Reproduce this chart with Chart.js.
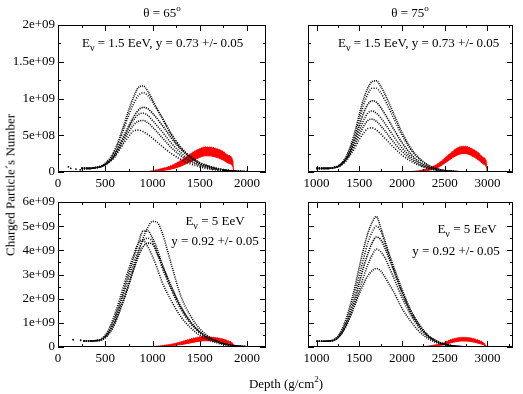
<!DOCTYPE html>
<html>
<head>
<meta charset="utf-8">
<script src="https://cdn.jsdelivr.net/npm/chart.js@4.4.1/dist/chart.umd.min.js"></script>
<style>
  body { margin: 0; background: #fff; }
  #wrap { position: relative; width: 523px; height: 394px; overflow: hidden; font-family: "Liberation Serif", "Times New Roman", serif; color: #000; }
  canvas { position: absolute; }
  .txt { position: absolute; font-size: 13px; line-height: 1; white-space: nowrap; }
  .c { transform: translate(-50%, -50%); }
  .l { transform: translateY(-50%); }
  .nu { font-size: 10px; position: relative; top: 4px; }
  .sup { font-size: 9px; position: relative; top: -6px; }
</style>
</head>
<body>
<div id="wrap">
  <canvas id="tl" width="270" height="194" style="left:0;top:0"></canvas>
  <canvas id="tr" width="257" height="194" style="left:260px;top:0"></canvas>
  <canvas id="bl" width="270" height="179" style="left:0;top:190px"></canvas>
  <canvas id="br" width="257" height="179" style="left:260px;top:190px"></canvas>

  <div class="txt c" style="left:162px;top:12px">θ = 65<span class="sup">o</span></div>
  <div class="txt c" style="left:410px;top:12px">θ = 75<span class="sup">o</span></div>
  <div class="txt l" style="left:82px;top:42px">E<span class="nu">ν</span> = 1.5 EeV, y = 0.73 +/- 0.05</div>
  <div class="txt l" style="left:338px;top:42px">E<span class="nu">ν</span> = 1.5 EeV, y = 0.73 +/- 0.05</div>
  <div class="txt c" style="left:215px;top:220px">E<span class="nu">ν</span> = 5 EeV</div>
  <div class="txt c" style="left:215px;top:240px">y = 0.92 +/- 0.05</div>
  <div class="txt c" style="left:467px;top:228px">E<span class="nu">ν</span> = 5 EeV</div>
  <div class="txt c" style="left:456px;top:250px">y = 0.92 +/- 0.05</div>
  <div class="txt c" style="left:10px;top:185px;transform:translate(-50%,-50%) rotate(-90deg)">Charged Particle´s Number</div>
  <div class="txt c" style="left:286px;top:383px">Depth (g/cm<span class="sup">2</span>)</div>
</div>
<script>
// axes (values in units of 1e9 particles)
const xTicksLeft = [0, 500, 1000, 1500, 2000];
const xMinorLeft = [250, 750, 1250, 1750];
const xTicksRight = [1000, 1500, 2000, 2500, 3000];
const xMinorRight = [1250, 1750, 2250, 2750, 3250];
const yTicksTop = [0, 0.5, 1, 1.5, 2];
const yLabelsTop = ["0", "5e+08", "1e+09", "1.5e+09", "2e+09"];
const yMinorTop = [0.25, 0.75, 1.25, 1.75];
const yTicksBottom = [0, 1, 2, 3, 4, 5, 6];
const yLabelsBottom = ["0", "1e+09", "2e+09", "3e+09", "4e+09", "5e+09", "6e+09"];
const yMinorBottom = [0.5, 1.5, 2.5, 3.5, 4.5, 5.5];

// theta = 65, E = 1.5 EeV
const tlDepth = [250, 300, 350, 400, 450, 500, 550, 600, 650, 700, 750, 800, 850, 900, 950, 1000, 1100, 1200, 1300, 1400, 1500, 1600, 1700, 1800, 1900, 2000, 2050];
const tlShowerA = [0.05, 0.05, 0.05, 0.06, 0.08, 0.12, 0.19, 0.30, 0.46, 0.65, 0.85, 1.02, 1.15, 1.17, 1.10, 0.98, 0.74, 0.50, 0.32, 0.20, 0.12, 0.07, 0.04, 0.02, 0.01, 0.005, 0];
const tlShowerB = [0.05, 0.05, 0.05, 0.06, 0.08, 0.11, 0.17, 0.27, 0.42, 0.60, 0.78, 0.93, 1.04, 1.08, 1.04, 0.95, 0.74, 0.52, 0.34, 0.21, 0.13, 0.08, 0.045, 0.025, 0.012, 0.005, 0];
const tlShowerC = [0.05, 0.05, 0.05, 0.06, 0.07, 0.10, 0.16, 0.24, 0.36, 0.50, 0.63, 0.75, 0.84, 0.88, 0.86, 0.80, 0.64, 0.46, 0.31, 0.20, 0.12, 0.075, 0.04, 0.02, 0.01, 0.004, 0];
const tlShowerD = [0.05, 0.05, 0.05, 0.06, 0.07, 0.10, 0.15, 0.23, 0.34, 0.47, 0.60, 0.71, 0.78, 0.80, 0.77, 0.70, 0.55, 0.39, 0.26, 0.16, 0.10, 0.06, 0.035, 0.018, 0.008, 0.003, 0];
const tlShowerE = [0.05, 0.05, 0.05, 0.06, 0.07, 0.10, 0.15, 0.22, 0.32, 0.44, 0.55, 0.64, 0.69, 0.70, 0.67, 0.61, 0.47, 0.33, 0.22, 0.14, 0.09, 0.05, 0.03, 0.015, 0.007, 0.003, 0];
const tlShowerF = [0.05, 0.05, 0.05, 0.06, 0.07, 0.10, 0.14, 0.20, 0.30, 0.40, 0.49, 0.56, 0.57, 0.55, 0.51, 0.46, 0.35, 0.25, 0.17, 0.11, 0.07, 0.04, 0.025, 0.012, 0.006, 0.002, 0];
const tlStrayX = [110, 135, 190, 235];
const tlStrayY = [0.07, 0.05, 0.04, 0.03];
const tlRedDepth = [960, 1000, 1100, 1200, 1300, 1400, 1450, 1500, 1550, 1600, 1650, 1700, 1750, 1800, 1850, 1860];
const tlRedUpper = [0.01, 0.02, 0.05, 0.09, 0.16, 0.25, 0.29, 0.32, 0.34, 0.34, 0.33, 0.31, 0.28, 0.23, 0.16, 0];
const tlRedLower = [0, 0.005, 0.02, 0.04, 0.08, 0.14, 0.17, 0.20, 0.22, 0.22, 0.21, 0.19, 0.16, 0.12, 0.07, 0];
const tlRedTailX = [1860, 2050];
const tlRedTailY = [0.004, 0.004];

// theta = 75, E = 1.5 EeV
const trDepth = [1000, 1050, 1100, 1150, 1200, 1250, 1300, 1350, 1400, 1450, 1500, 1550, 1600, 1650, 1700, 1750, 1800, 1900, 2000, 2100, 2200, 2300, 2400, 2500, 2600, 2700];
const trShowerA = [0.05, 0.05, 0.05, 0.05, 0.06, 0.08, 0.13, 0.22, 0.36, 0.55, 0.78, 0.99, 1.14, 1.23, 1.24, 1.17, 1.06, 0.80, 0.54, 0.33, 0.19, 0.10, 0.05, 0.02, 0.01, 0];
const trShowerB = [0.05, 0.05, 0.05, 0.05, 0.06, 0.08, 0.12, 0.20, 0.33, 0.50, 0.71, 0.91, 1.06, 1.14, 1.14, 1.08, 0.98, 0.74, 0.50, 0.31, 0.18, 0.09, 0.045, 0.02, 0.01, 0];
const trShowerC = [0.05, 0.05, 0.05, 0.05, 0.06, 0.08, 0.12, 0.19, 0.30, 0.45, 0.63, 0.80, 0.92, 0.97, 0.95, 0.88, 0.79, 0.59, 0.40, 0.25, 0.14, 0.075, 0.04, 0.02, 0.01, 0];
const trShowerD = [0.05, 0.05, 0.05, 0.05, 0.06, 0.07, 0.11, 0.18, 0.28, 0.41, 0.56, 0.70, 0.80, 0.83, 0.80, 0.74, 0.66, 0.49, 0.33, 0.21, 0.12, 0.065, 0.035, 0.015, 0.005, 0];
const trShowerE = [0.05, 0.05, 0.05, 0.05, 0.06, 0.07, 0.11, 0.17, 0.26, 0.37, 0.50, 0.62, 0.70, 0.72, 0.69, 0.63, 0.56, 0.41, 0.28, 0.18, 0.10, 0.055, 0.03, 0.012, 0.005, 0];
const trShowerF = [0.05, 0.05, 0.05, 0.05, 0.06, 0.07, 0.10, 0.16, 0.24, 0.33, 0.44, 0.53, 0.59, 0.60, 0.57, 0.52, 0.46, 0.34, 0.23, 0.15, 0.09, 0.05, 0.025, 0.01, 0.005, 0];
const trTailX = [2700, 3300];
const trTailY = [0.003, 0.003];
const trRedDepth = [2100, 2200, 2300, 2400, 2450, 2500, 2550, 2600, 2650, 2700, 2750, 2800, 2850, 2900, 2950, 2990, 3000];
const trRedUpper = [0.005, 0.02, 0.05, 0.10, 0.14, 0.19, 0.24, 0.29, 0.33, 0.35, 0.35, 0.33, 0.30, 0.26, 0.20, 0.14, 0];
const trRedLower = [0, 0.005, 0.02, 0.05, 0.08, 0.12, 0.16, 0.20, 0.23, 0.25, 0.25, 0.23, 0.20, 0.16, 0.11, 0.06, 0];
const trRedTailX = [3000, 3300];
const trRedTailY = [0.004, 0.004];

// theta = 65, E = 5 EeV
const blDepth = [270, 300, 350, 400, 450, 500, 550, 600, 650, 700, 750, 800, 850, 900, 950, 1000, 1050, 1100, 1200, 1300, 1400, 1500, 1600, 1700, 1800, 1900, 2000, 2050];
const blShowerA = [0.25, 0.25, 0.25, 0.26, 0.30, 0.45, 0.75, 1.20, 1.75, 2.40, 3.05, 3.70, 4.30, 4.80, 4.80, 4.50, 4.05, 3.45, 2.50, 1.65, 1.05, 0.62, 0.36, 0.20, 0.09, 0.04, 0.012, 0];
const blShowerB = [0.25, 0.25, 0.25, 0.26, 0.29, 0.42, 0.70, 1.10, 1.65, 2.25, 2.85, 3.45, 4.00, 4.40, 4.50, 4.35, 3.90, 3.30, 2.35, 1.55, 0.98, 0.58, 0.34, 0.19, 0.085, 0.035, 0.01, 0];
const blShowerC = [0.25, 0.25, 0.25, 0.26, 0.28, 0.40, 0.65, 1.00, 1.50, 2.00, 2.60, 3.20, 3.75, 4.15, 4.30, 4.25, 3.85, 3.40, 2.45, 1.65, 1.05, 0.62, 0.36, 0.20, 0.09, 0.04, 0.012, 0];
const blShowerD = [0.25, 0.25, 0.25, 0.27, 0.32, 0.50, 0.85, 1.35, 1.95, 2.60, 3.25, 3.80, 4.30, 4.40, 4.15, 3.75, 3.25, 2.70, 1.90, 1.25, 0.80, 0.48, 0.28, 0.15, 0.07, 0.03, 0.01, 0];
const blShowerE = [0.25, 0.25, 0.25, 0.26, 0.28, 0.38, 0.60, 0.95, 1.45, 2.00, 2.60, 3.25, 3.90, 4.50, 4.95, 5.20, 5.15, 4.75, 3.40, 2.10, 1.30, 0.75, 0.42, 0.22, 0.10, 0.04, 0.012, 0];
const blStrayX = [160, 240];
const blStrayY = [0.30, 0.28];
const blRedDepth = [950, 1000, 1100, 1200, 1300, 1400, 1450, 1500, 1550, 1600, 1650, 1700, 1750, 1800, 1850, 1870];
const blRedUpper = [0.01, 0.02, 0.06, 0.12, 0.22, 0.33, 0.38, 0.42, 0.43, 0.42, 0.40, 0.37, 0.33, 0.26, 0.15, 0];
const blRedLower = [0, 0.005, 0.02, 0.05, 0.10, 0.17, 0.21, 0.24, 0.26, 0.26, 0.25, 0.23, 0.20, 0.14, 0.07, 0];

// theta = 75, E = 5 EeV
const brDepth = [1000, 1050, 1100, 1150, 1200, 1250, 1300, 1350, 1400, 1450, 1500, 1550, 1600, 1650, 1700, 1750, 1800, 1850, 1900, 2000, 2100, 2200, 2300, 2400, 2500, 2600, 2700, 2800];
const brShowerA = [0.24, 0.24, 0.24, 0.25, 0.30, 0.45, 0.75, 1.20, 1.80, 2.50, 3.30, 4.05, 4.70, 5.15, 5.40, 4.95, 4.40, 3.85, 3.35, 2.40, 1.55, 0.95, 0.50, 0.27, 0.12, 0.05, 0.015, 0];
const brShowerB = [0.24, 0.24, 0.24, 0.25, 0.29, 0.42, 0.68, 1.08, 1.60, 2.25, 2.95, 3.65, 4.30, 4.75, 5.00, 4.80, 4.30, 3.80, 3.25, 2.30, 1.50, 0.90, 0.48, 0.25, 0.11, 0.045, 0.012, 0];
const brShowerC = [0.24, 0.24, 0.24, 0.25, 0.28, 0.40, 0.62, 0.98, 1.45, 2.00, 2.65, 3.30, 3.85, 4.30, 4.55, 4.45, 4.10, 3.65, 3.20, 2.25, 1.45, 0.88, 0.47, 0.24, 0.11, 0.045, 0.012, 0];
const brShowerD = [0.24, 0.24, 0.24, 0.25, 0.28, 0.38, 0.58, 0.90, 1.30, 1.80, 2.35, 2.90, 3.40, 3.80, 4.05, 3.95, 3.70, 3.30, 2.90, 2.05, 1.35, 0.80, 0.44, 0.22, 0.10, 0.04, 0.01, 0];
const brShowerE = [0.24, 0.24, 0.24, 0.25, 0.27, 0.38, 0.60, 0.90, 1.30, 1.75, 2.20, 2.60, 2.95, 3.15, 3.25, 3.15, 2.90, 2.60, 2.30, 1.60, 1.08, 0.65, 0.36, 0.19, 0.09, 0.035, 0.01, 0];
const brTailX = [2800, 3300];
const brTailY = [0.005, 0.005];
const brRedDepth = [2150, 2200, 2300, 2400, 2500, 2550, 2600, 2650, 2700, 2750, 2800, 2850, 2900, 2950, 3000];
const brRedUpper = [0.005, 0.01, 0.04, 0.10, 0.20, 0.28, 0.34, 0.38, 0.40, 0.40, 0.38, 0.34, 0.28, 0.20, 0];
const brRedLower = [0, 0, 0.01, 0.04, 0.10, 0.15, 0.20, 0.23, 0.25, 0.25, 0.23, 0.20, 0.15, 0.10, 0];

Chart.defaults.font.family = "'Liberation Serif', 'Times New Roman', serif";
Chart.defaults.font.size = 13;
Chart.defaults.color = "#000";

function pts(xs, ys) {
  return xs.map((x, i) => ({ x, y: ys[i] }));
}

function shower(xs, ys, dash) {
  return {
    data: pts(xs, ys),
    showLine: true,
    borderColor: "#000",
    borderWidth: 1.6,
    borderDash: dash,
    pointRadius: 0,
    cubicInterpolationMode: "monotone",
    fill: false
  };
}

function flat(xs, ys, color) {
  return { data: pts(xs, ys), showLine: true, borderColor: color, borderWidth: 1, pointRadius: 0, fill: false };
}

function stray(xs, ys) {
  return { data: pts(xs, ys), showLine: false, pointRadius: 0.9, pointBackgroundColor: "#000", pointBorderWidth: 0 };
}

function redBand(xs, lower, upper) {
  return [
    { data: pts(xs, lower), showLine: true, borderColor: "#f00", borderWidth: 1, pointRadius: 0, cubicInterpolationMode: "monotone", fill: false },
    { data: pts(xs, upper), showLine: true, borderColor: "#f00", borderWidth: 1, borderDash: [1, 1], pointRadius: 0, cubicInterpolationMode: "monotone", fill: "-1", backgroundColor: "#f00" }
  ];
}

const innerTicks = {
  id: "innerTicks",
  afterDraw(chart, args, o) {
    const { ctx, chartArea: a, scales: { x, y } } = chart;
    ctx.save();
    ctx.strokeStyle = "#000";
    ctx.lineWidth = 1;
    ctx.strokeRect(a.left + 0.5, a.top + 0.5, a.right - a.left - 1, a.bottom - a.top - 1);
    ctx.beginPath();
    const xs = [[o.xMajor, 6], [o.xMinor, 3]];
    xs.forEach(([vals, len]) => vals.forEach((v) => {
      const px = Math.round(x.getPixelForValue(v)) + 0.5;
      ctx.moveTo(px, a.bottom); ctx.lineTo(px, a.bottom - len);
      ctx.moveTo(px, a.top); ctx.lineTo(px, a.top + len);
    }));
    const ys = [[o.yMajor, 6], [o.yMinor, 3]];
    ys.forEach(([vals, len]) => vals.forEach((v) => {
      const py = Math.round(y.getPixelForValue(v)) + 0.5;
      ctx.moveTo(a.left, py); ctx.lineTo(a.left + len, py);
      ctx.moveTo(a.right, py); ctx.lineTo(a.right - len, py);
    }));
    ctx.stroke();
    ctx.restore();
  }
};

function makePanel(id, cfg) {
  new Chart(document.getElementById(id), {
    type: "scatter",
    data: { datasets: cfg.datasets },
    plugins: [innerTicks],
    options: {
      responsive: false,
      animation: false,
      events: [],
      layout: { padding: { top: cfg.padTop, right: 4, left: 0, bottom: 0 } },
      plugins: {
        legend: { display: false },
        tooltip: { enabled: false },
        innerTicks: { xMajor: cfg.xTicks, xMinor: cfg.xMinor, yMajor: cfg.yTicks, yMinor: cfg.yMinor }
      },
      scales: {
        x: {
          type: "linear",
          min: cfg.xMin,
          max: cfg.xMax,
          grid: { display: false, drawTicks: false },
          border: { display: false },
          ticks: { padding: 4, autoSkip: false, maxRotation: 0, callback: (v) => String(v) },
          afterBuildTicks: (s) => { s.ticks = cfg.xTicks.map((v) => ({ value: v })); },
          afterFit: (s) => { s.height = 22; }
        },
        y: {
          type: "linear",
          min: 0,
          max: cfg.yTicks[cfg.yTicks.length - 1],
          grid: { display: false, drawTicks: false },
          border: { display: false },
          ticks: {
            display: cfg.yLabels !== null,
            padding: 3,
            autoSkip: false,
            callback: (v) => (cfg.yLabels ? cfg.yLabels[cfg.yTicks.indexOf(v)] : "")
          },
          afterBuildTicks: (s) => { s.ticks = cfg.yTicks.map((v) => ({ value: v })); },
          afterFit: (s) => { s.width = cfg.yWidth; }
        }
      }
    }
  });
}

const dashes = [[1, 1], [1, 1.5], [1.2, 1], [1, 1.3], [1, 1.2], [1, 1.6]];

makePanel("tl", {
  padTop: 25, yWidth: 58, xMin: 0, xMax: 2200,
  xTicks: xTicksLeft, xMinor: xMinorLeft, yTicks: yTicksTop, yMinor: yMinorTop, yLabels: yLabelsTop,
  datasets: [
    ...[tlShowerA, tlShowerB, tlShowerC, tlShowerD, tlShowerE, tlShowerF].map((s, i) => shower(tlDepth, s, dashes[i])),
    stray(tlStrayX, tlStrayY),
    flat(tlRedTailX, tlRedTailY, "#f00"),
    ...redBand(tlRedDepth, tlRedLower, tlRedUpper)
  ]
});

makePanel("tr", {
  padTop: 25, yWidth: 48, xMin: 900, xMax: 3300,
  xTicks: xTicksRight, xMinor: xMinorRight, yTicks: yTicksTop, yMinor: yMinorTop, yLabels: null,
  datasets: [
    ...[trShowerA, trShowerB, trShowerC, trShowerD, trShowerE, trShowerF].map((s, i) => shower(trDepth, s, dashes[i])),
    flat(trTailX, trTailY, "#000"),
    flat(trRedTailX, trRedTailY, "#f00"),
    ...redBand(trRedDepth, trRedLower, trRedUpper)
  ]
});

makePanel("bl", {
  padTop: 12, yWidth: 58, xMin: 0, xMax: 2200,
  xTicks: xTicksLeft, xMinor: xMinorLeft, yTicks: yTicksBottom, yMinor: yMinorBottom, yLabels: yLabelsBottom,
  datasets: [
    ...[blShowerA, blShowerB, blShowerC, blShowerD, blShowerE].map((s, i) => shower(blDepth, s, dashes[i])),
    stray(blStrayX, blStrayY),
    ...redBand(blRedDepth, blRedLower, blRedUpper)
  ]
});

makePanel("br", {
  padTop: 12, yWidth: 48, xMin: 900, xMax: 3300,
  xTicks: xTicksRight, xMinor: xMinorRight, yTicks: yTicksBottom, yMinor: yMinorBottom, yLabels: null,
  datasets: [
    ...[brShowerA, brShowerB, brShowerC, brShowerD, brShowerE].map((s, i) => shower(brDepth, s, dashes[i])),
    flat(brTailX, brTailY, "#000"),
    ...redBand(brRedDepth, brRedLower, brRedUpper)
  ]
});
</script>
</body>
</html>
